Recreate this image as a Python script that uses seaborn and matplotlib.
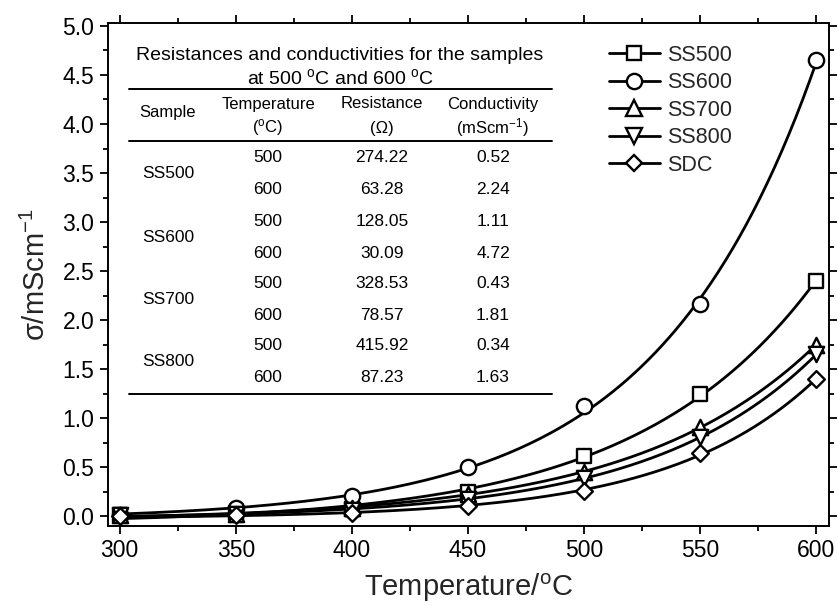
import numpy as np
import seaborn as sns
import matplotlib.pyplot as plt
from matplotlib.lines import Line2D
from matplotlib.ticker import MultipleLocator

# conductivity (mS/cm) vs temperature
temps = [300, 350, 400, 450, 500, 550, 600]
ss500 = [0.01, 0.03, 0.07, 0.25, 0.61, 1.25, 2.40]
ss600 = [0.01, 0.08, 0.21, 0.50, 1.12, 2.16, 4.65]
ss700 = [0.01, 0.02, 0.08, 0.23, 0.45, 0.91, 1.75]
ss800 = [0.01, 0.02, 0.06, 0.18, 0.385, 0.81, 1.65]
sdc = [0.00, 0.01, 0.03, 0.10, 0.26, 0.64, 1.40]

samples = ['SS500', 'SS600', 'SS700', 'SS800', 'SDC']
series = [ss500, ss600, ss700, ss800, sdc]
markers = ['s', 'o', '^', 'v', 'D']
msizes = [10, 11, 11, 11, 8.5]

# inset table
table_samples = ['SS500', 'SS600', 'SS700', 'SS800']
table_temps = ['500', '600', '500', '600', '500', '600', '500', '600']
resistances = ['274.22', '63.28', '128.05', '30.09', '328.53', '78.57', '415.92', '87.23']
conductivities = ['0.52', '2.24', '1.11', '4.72', '0.43', '1.81', '0.34', '1.63']

sns.set_style('ticks')
plt.rcParams['font.family'] = ['Liberation Sans', 'DejaVu Sans']
plt.rcParams['mathtext.fontset'] = 'custom'
plt.rcParams['mathtext.rm'] = 'Liberation Sans'
plt.rcParams['mathtext.it'] = 'Liberation Sans:italic'


def exp_fit(x, y):
    # y = A*exp(b*(x-300)) + c, b by grid search, A and c by least squares
    x = np.asarray(x, float)
    y = np.asarray(y, float)
    best = None
    for b in np.linspace(0.002, 0.04, 1500):
        basis = np.column_stack([np.exp(b * (x - 300)), np.ones_like(x)])
        coef = np.linalg.lstsq(basis, y, rcond=None)[0]
        err = np.sum((basis @ coef - y) ** 2)
        if best is None or err < best[0]:
            best = (err, b, coef)
    _, b, coef = best
    xs = np.linspace(300, 600, 200)
    return xs, coef[0] * np.exp(b * (xs - 300)) + coef[1]


W, H = 838, 606
fig = plt.figure(figsize=(W / 100, H / 100), dpi=100)
L, R, T, B = 107.5, 829, 23, 526
ax = fig.add_axes([L / W, (H - B) / H, (R - L) / W, (B - T) / H])


def axpt(px, py):
    return (px - L) / (R - L), (B - py) / (B - T)


handles = []
for name, vals, m, ms in zip(samples, series, markers, msizes):
    xs, ys = exp_fit(temps, vals)
    sns.lineplot(x=xs, y=ys, color='black', linewidth=2.0, ax=ax, zorder=2)
    sns.scatterplot(x=temps, y=vals, marker=m, s=ms ** 2, color='white',
                    edgecolor='black', linewidth=1.7, zorder=3, ax=ax)
    handles.append(Line2D([], [], color='black', lw=2.0, marker=m, markersize=ms,
                          markerfacecolor='white', markeredgecolor='black', mew=1.7))

ax.set_xlim(294.8, 605.4)
ax.set_ylim(-0.10, 5.03)
ax.xaxis.set_major_locator(MultipleLocator(50))
ax.xaxis.set_minor_locator(MultipleLocator(25))
ax.yaxis.set_major_locator(MultipleLocator(0.5))
ax.yaxis.set_minor_locator(MultipleLocator(0.25))
ax.yaxis.set_major_formatter(plt.FormatStrFormatter('%.1f'))
ax.tick_params(which='both', direction='out', top=True, right=True,
               width=1.3, labelsize=16.5, color='black', labelcolor='black')
ax.tick_params(which='major', length=6)
ax.tick_params(which='minor', length=3.5)
for sp in ax.spines.values():
    sp.set_visible(True)
    sp.set_linewidth(1.4)
    sp.set_color('black')

ax.set_xlabel(r'Temperature/$^{\mathrm{o}}$C', fontsize=21, labelpad=7)
ax.set_ylabel(r'σ/mScm$^{-1}$', fontsize=21, labelpad=8)

leg = ax.legend(handles, samples, loc='upper left', frameon=False,
                bbox_to_anchor=(609 / W, 1 - 45 / H), bbox_transform=fig.transFigure,
                fontsize=15.5, handlelength=2.35, handletextpad=0.35,
                labelspacing=0.3, borderpad=0, borderaxespad=0)

# inset table drawn as text and rules
tkw = dict(transform=ax.transAxes, ha='center', va='center', color='black')
ax.text(*axpt(340, 55), 'Resistances and conductivities for the samples', fontsize=14, **tkw)
ax.text(*axpt(340, 78), r'at 500 $^{\mathrm{o}}$C and 600 $^{\mathrm{o}}$C', fontsize=14, **tkw)
for py in [89, 141, 394]:
    x0, y0 = axpt(129, py)
    x1, _ = axpt(552, py)
    ax.plot([x0, x1], [y0, y0], transform=ax.transAxes, color='black', lw=1.4, clip_on=False)

hs = 12
ax.text(*axpt(168, 113), 'Sample', fontsize=hs, **tkw)
ax.text(*axpt(268, 104), 'Temperature', fontsize=hs, **tkw)
ax.text(*axpt(268, 128), r'($^{\mathrm{o}}$C)', fontsize=hs, **tkw)
ax.text(*axpt(382, 104), 'Resistance', fontsize=hs, **tkw)
ax.text(*axpt(382, 128), '(Ω)', fontsize=hs, **tkw)
ax.text(*axpt(493, 104), 'Conductivity', fontsize=hs, **tkw)
ax.text(*axpt(493, 128), r'(mScm$^{-1}$)', fontsize=hs, **tkw)

row_y = [158, 190, 221, 253, 284, 315, 346, 378]
for i, name in enumerate(table_samples):
    ax.text(*axpt(168, (row_y[2 * i] + row_y[2 * i + 1]) / 2), name, fontsize=12.5, **tkw)
for py, t, r, c in zip(row_y, table_temps, resistances, conductivities):
    ax.text(*axpt(268, py), t, fontsize=12.5, **tkw)
    ax.text(*axpt(382, py), r, fontsize=12.5, **tkw)
    ax.text(*axpt(493, py), c, fontsize=12.5, **tkw)

fig.savefig('out.png', dpi=100)
